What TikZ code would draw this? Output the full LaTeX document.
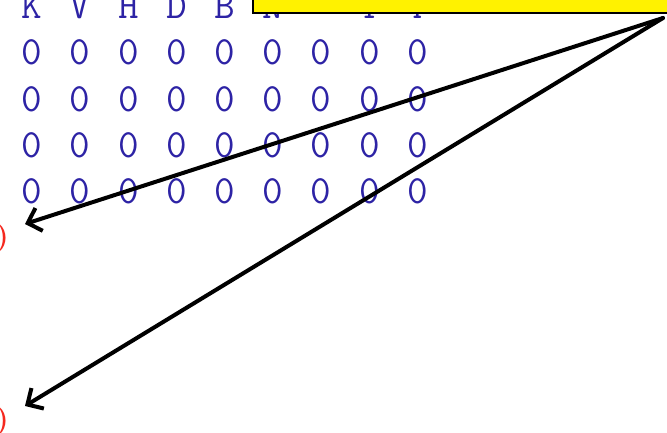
\documentclass[tikz,border=0pt]{standalone}
\usetikzlibrary{arrows.meta}

\definecolor{zeroblue}{RGB}{45,35,165}
\definecolor{parenred}{RGB}{245,40,30}

\begin{document}
\begin{tikzpicture}[x=1pt,y=-1pt,>={Straight Barb[length=12pt,width=24pt]},
    cell/.style={inner sep=0pt,anchor=base,text=zeroblue,font=\ttfamily\fontsize{40}{40}\selectfont},
    paren/.style={inner sep=0pt,anchor=base east,text=parenred,font=\bfseries\fontsize{29}{29}\selectfont},
    callout/.style={draw=black,line width=2pt,fill=yellow},
    pointer/.style={->,line width=4pt,line cap=round}]
    \clip (0,0) rectangle (667,433);

    % column headings
    \foreach \c/\l in {1/K,2/V,3/H,4/D,5/B,6/N,8/T,9/Y}
        \node[cell] (h-\c) at ({32+48.2*(\c-1)},19) {\l};

    % grid of zeros
    \foreach \r in {1,...,4}
        \foreach \c in {1,...,9}
            \node[cell] (z-\r-\c) at ({32+48.2*(\c-1)},{65+46.3*(\r-1)}) {0};

    % red brackets at the left edge
    \node[paren] (p1) at (9,245) {)};
    \node[paren] (p2) at (9,428) {)};

    % yellow note box, cut off at the top
    \node[callout,minimum width=440pt,minimum height=40pt,anchor=south west] (note) at (252,14) {};

    \coordinate (apex) at (663,18);
    \coordinate (tip1) at (25,224);
    \coordinate (tip2) at (25,406);

    \draw[pointer] (apex) -- (tip1);
    \draw[pointer] (apex) -- (tip2);
\end{tikzpicture}
\end{document}
